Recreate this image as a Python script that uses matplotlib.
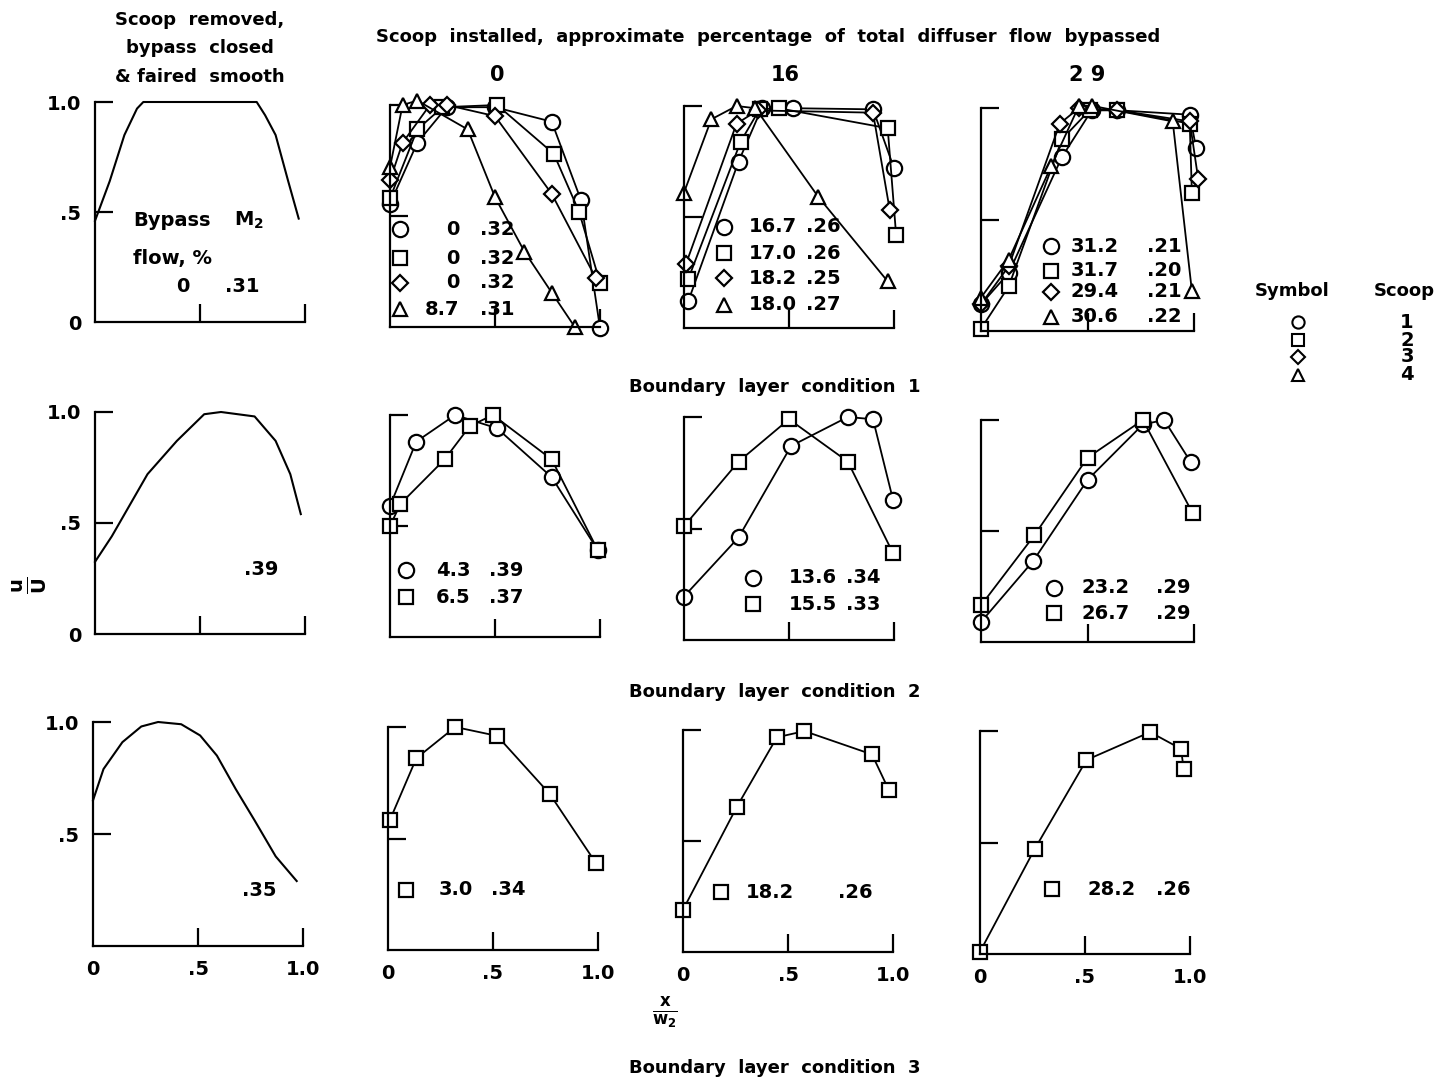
import matplotlib
matplotlib.use('Agg')
import matplotlib.pyplot as plt

plt.rcParams['font.family'] = ['DejaVu Sans']
plt.rcParams['font.weight'] = 'bold'
plt.rcParams['mathtext.default'] = 'bf'

W, H = 1444, 1087

# ---- data (x/w2, u/U) ----
symbols = ['o', 's', 'D', '^']
scoops = ['1', '2', '3', '4']

# scoop removed, faired smooth (no markers)
bl1_ref_x = [0, 0.07, 0.14, 0.2, 0.23, 0.5, 0.77, 0.81, 0.86, 0.92, 0.97]
bl1_ref_y = [0.46, 0.64, 0.85, 0.97, 1.0, 1.0, 1.0, 0.94, 0.85, 0.64, 0.47]
bl2_ref_x = [0, 0.08, 0.25, 0.39, 0.52, 0.6, 0.76, 0.86, 0.93, 0.98]
bl2_ref_y = [0.325, 0.44, 0.72, 0.87, 0.99, 1.0, 0.98, 0.87, 0.72, 0.54]
bl3_ref_x = [0, 0.05, 0.14, 0.23, 0.31, 0.42, 0.51, 0.59, 0.68, 0.77, 0.87, 0.97]
bl3_ref_y = [0.65, 0.79, 0.91, 0.98, 1.0, 0.99, 0.94, 0.85, 0.7, 0.56, 0.4, 0.29]
ref_labels = ['.31', '.39', '.35']

# boundary layer condition 1, scoops 1-4
bl1_p0_x = [[0, 0.13, 0.27, 0.5, 0.77, 0.91, 1.0],
            [0, 0.13, 0.25, 0.51, 0.78, 0.9, 1.0],
            [0, 0.06, 0.19, 0.27, 0.5, 0.77, 0.98],
            [0, 0.06, 0.13, 0.37, 0.5, 0.64, 0.77, 0.88]]
bl1_p0_y = [[0.555, 0.83, 0.99, 0.99, 0.925, 0.57, -0.005],
            [0.58, 0.89, 0.99, 1.0, 0.78, 0.52, 0.2],
            [0.66, 0.83, 1.0, 1.0, 0.95, 0.6, 0.22],
            [0.72, 1.0, 1.02, 0.89, 0.585, 0.34, 0.155, 0.0]]
bl1_p0_leg = [('0', '.32'), ('0', '.32'), ('0', '.32'), ('8.7', '.31')]

bl1_p16_x = [[0.02, 0.26, 0.37, 0.52, 0.9, 1.0],
             [0.02, 0.27, 0.36, 0.45, 0.97, 1.01],
             [0.01, 0.25, 0.35, 0.9, 0.98],
             [0, 0.13, 0.25, 0.34, 0.64, 0.97]]
bl1_p16_y = [[0.12, 0.75, 0.99, 0.99, 0.985, 0.72],
             [0.22, 0.84, 0.985, 0.99, 0.9, 0.42],
             [0.29, 0.92, 0.98, 0.97, 0.53],
             [0.61, 0.94, 1.0, 0.99, 0.59, 0.21]]
bl1_p16_leg = [('16.7', '.26'), ('17.0', '.26'), ('18.2', '.25'), ('18.0', '.27')]

bl1_p29_x = [[0, 0.13, 0.38, 0.52, 0.64, 0.98, 1.01],
             [0, 0.13, 0.38, 0.51, 0.64, 0.98, 0.99],
             [0, 0.13, 0.37, 0.46, 0.64, 0.98, 1.02],
             [0, 0.13, 0.33, 0.46, 0.52, 0.9, 0.99]]
bl1_p29_y = [[0.12, 0.26, 0.78, 0.99, 0.99, 0.97, 0.82],
             [0.01, 0.2, 0.86, 0.99, 0.99, 0.93, 0.62],
             [0.12, 0.29, 0.93, 1.0, 0.99, 0.94, 0.68],
             [0.15, 0.32, 0.74, 1.01, 1.01, 0.94, 0.18]]
bl1_p29_leg = [('31.2', '.21'), ('31.7', '.20'), ('29.4', '.21'), ('30.6', '.22')]

# boundary layer condition 2, scoops 1-2
bl2_p0_x = [[0, 0.125, 0.31, 0.51, 0.77, 0.99],
            [0, 0.05, 0.26, 0.38, 0.49, 0.77, 0.99]]
bl2_p0_y = [[0.59, 0.88, 1.0, 0.94, 0.72, 0.39],
            [0.5, 0.6, 0.8, 0.95, 1.0, 0.8, 0.39]]
bl2_p0_leg = [('4.3', '.39'), ('6.5', '.37')]

bl2_p16_x = [[0, 0.26, 0.51, 0.78, 0.9, 0.995],
             [0, 0.26, 0.5, 0.78, 0.995]]
bl2_p16_y = [[0.195, 0.46, 0.87, 1.0, 0.99, 0.63],
             [0.51, 0.8, 0.99, 0.8, 0.39]]
bl2_p16_leg = [('13.6', '.34'), ('15.5', '.33')]

bl2_p29_x = [[0, 0.245, 0.5, 0.76, 0.86, 0.985],
             [0, 0.25, 0.5, 0.76, 0.994]]
bl2_p29_y = [[0.09, 0.365, 0.73, 0.98, 1.0, 0.81],
             [0.165, 0.48, 0.83, 1.0, 0.58]]
bl2_p29_leg = [('23.2', '.29'), ('26.7', '.29')]

# boundary layer condition 3, scoop 2
bl3_p0_x = [[0.01, 0.135, 0.32, 0.52, 0.77, 0.99]]
bl3_p0_y = [[0.585, 0.86, 1.0, 0.96, 0.7, 0.39]]
bl3_p0_leg = [('3.0', '.34')]

bl3_p16_x = [[0, 0.257, 0.447, 0.578, 0.9, 0.98]]
bl3_p16_y = [[0.19, 0.655, 0.967, 0.995, 0.89, 0.73]]
bl3_p16_leg = [('18.2', '.26')]

bl3_p29_x = [[0, 0.26, 0.507, 0.81, 0.957, 0.97]]
bl3_p29_y = [[0.01, 0.47, 0.87, 0.995, 0.92, 0.83]]
bl3_p29_leg = [('28.2', '.26')]

bypass_cols = ['0', '16', '2 9']
row_titles = ['Boundary  layer  condition  1', 'Boundary  layer  condition  2',
              'Boundary  layer  condition  3']

# ---- layout (pixels: left, bottom, width, height) ----
boxes = [
    [(95, 322, 210, 220), (390, 327, 210, 222), (684, 328, 210, 222), (981, 331, 213, 223)],
    [(95, 634, 210, 222), (390, 637, 210, 222), (684, 640, 210, 223), (981, 642, 213, 222)],
    [(93, 946, 210, 224), (388, 950, 210, 223), (683, 952, 210, 222), (980, 954, 210, 223)],
]
# legend placement per panel: symbol x, flow x (+ alignment), M2 left x, row y's
leg_pos = [
    [(0.05, 0.33, 'right', 0.43, [0.44, 0.31, 0.2, 0.08]),
     (0.19, 0.31, 'left', 0.58, [0.455, 0.336, 0.224, 0.104]),
     (0.33, 0.42, 'left', 0.78, [0.38, 0.27, 0.175, 0.063])],
    [(0.075, 0.22, 'left', 0.47, [0.3, 0.18]),
     (0.33, 0.50, 'left', 0.77, [0.28, 0.16]),
     (0.345, 0.47, 'left', 0.82, [0.245, 0.13])],
    [(0.087, 0.24, 'left', 0.49, [0.27]),
     (0.18, 0.30, 'left', 0.74, [0.27]),
     (0.343, 0.51, 'left', 0.84, [0.29])],
]

ref_x = [bl1_ref_x, bl2_ref_x, bl3_ref_x]
ref_y = [bl1_ref_y, bl2_ref_y, bl3_ref_y]
ref_lab_y = [None, 0.29, 0.25]
panel_x = [[bl1_p0_x, bl1_p16_x, bl1_p29_x], [bl2_p0_x, bl2_p16_x, bl2_p29_x],
           [bl3_p0_x, bl3_p16_x, bl3_p29_x]]
panel_y = [[bl1_p0_y, bl1_p16_y, bl1_p29_y], [bl2_p0_y, bl2_p16_y, bl2_p29_y],
           [bl3_p0_y, bl3_p16_y, bl3_p29_y]]
panel_leg = [[bl1_p0_leg, bl1_p16_leg, bl1_p29_leg], [bl2_p0_leg, bl2_p16_leg, bl2_p29_leg],
             [bl3_p0_leg, bl3_p16_leg, bl3_p29_leg]]
row_syms = [symbols, symbols[:2], ['s']]

msize = {'o': 11, 's': 10, 'D': 8.5, '^': 10}

fig = plt.figure(figsize=(W / 100, H / 100), dpi=100)
fig.patch.set_facecolor('white')


def make_ax(box):
    l, b, w, h = box
    ax = fig.add_axes([l / W, 1 - b / H, w / W, h / H])
    ax.set_xlim(0, 1.0)
    ax.set_ylim(0, 1.0)
    ax.patch.set_alpha(0)
    for s in ['top', 'right']:
        ax.spines[s].set_visible(False)
    for s in ['left', 'bottom']:
        ax.spines[s].set_linewidth(1.6)
    ax.set_xticks([0.5, 1.0])
    ax.set_yticks([0.5, 1.0])
    ax.tick_params(direction='in', length=13, width=1.6, labelsize=14,
                   labelbottom=False, labelleft=False, pad=10)
    return ax


txt = dict(fontsize=14, fontweight='bold', va='center')

for r in range(3):
    # faired reference profile, scoop removed
    ax = make_ax(boxes[r][0])
    ax.plot(ref_x[r], ref_y[r], color='black', lw=1.5, clip_on=False)
    ax.set_yticks([0.5, 1.0] if r == 2 else [0, 0.5, 1.0])
    ax.set_yticklabels(['.5', '1.0'] if r == 2 else ['0', '.5', '1.0'])
    ax.tick_params(axis='y', labelleft=True)
    if r != 2:
        ax.yaxis.get_major_ticks()[0].tick1line.set_visible(False)
    if r == 2:
        ax.set_xticks([0, 0.5, 1.0])
        ax.set_xticklabels(['0', '.5', '1.0'])
        ax.tick_params(axis='x', labelbottom=True)
        ax.xaxis.get_major_ticks()[0].tick1line.set_visible(False)
    if r == 0:
        ax.text(0.18, 0.46, 'Bypass', ha='left', **txt)
        ax.text(0.66, 0.46, r'M$_2$', ha='left', **txt)
        ax.text(0.18, 0.29, 'flow, %', ha='left', **txt)
        ax.text(0.42, 0.16, '0', ha='center', **txt)
        ax.text(0.62, 0.16, ref_labels[0], ha='left', **txt)
    else:
        ax.text(0.71, ref_lab_y[r], ref_labels[r], ha='left', **txt)

    for c in range(3):
        ax = make_ax(boxes[r][c + 1])
        if r == 2:
            ax.set_xticks([0, 0.5, 1.0])
            ax.set_xticklabels(['0', '.5', '1.0'])
            ax.tick_params(axis='x', labelbottom=True, length=13)
            ax.xaxis.get_major_ticks()[0].tick1line.set_visible(False)
        xs, ys, leg = panel_x[r][c], panel_y[r][c], panel_leg[r][c]
        for k, m in enumerate(row_syms[r]):
            ax.plot(xs[k], ys[k], color='black', lw=1.3, marker=m, ms=msize[m],
                    mfc='white', mec='black', mew=1.6, clip_on=False)
        sx, fx, fha, mx, rows_y = leg_pos[r][c]
        for k, m in enumerate(row_syms[r]):
            ax.plot([sx], [rows_y[k]], marker=m, ms=msize[m], mfc='white',
                    mec='black', mew=1.6, ls='none', clip_on=False)
            ax.text(fx, rows_y[k], leg[k][0], ha=fha, **txt)
            ax.text(mx, rows_y[k], leg[k][1], ha='left', **txt)

# headings
head = dict(fontsize=13, fontweight='bold', ha='center', va='center')
fig.text(200 / W, 1 - 20 / H, 'Scoop  removed,', **head)
fig.text(200 / W, 1 - 48 / H, 'bypass  closed', **head)
fig.text(200 / W, 1 - 77 / H, '& faired  smooth', **head)
fig.text(768 / W, 1 - 37 / H,
         'Scoop  installed,  approximate  percentage  of  total  diffuser  flow  bypassed',
         **head)
for xc, lab in zip([497, 785, 1087], bypass_cols):
    fig.text(xc / W, 1 - 75 / H, lab, fontsize=15, fontweight='bold', ha='center', va='center')
for yc, lab in zip([387, 692, 1068], row_titles):
    fig.text(775 / W, 1 - yc / H, lab, **head)

fig.text(30 / W, 1 - 585 / H, r'$\frac{u}{U}$', fontsize=20, rotation=90,
         ha='center', va='center')
fig.text(665 / W, 1 - 1013 / H, r'$\frac{x}{w_2}$', fontsize=17,
         ha='center', va='center')

# symbol key
fig.text(1292 / W, 1 - 291 / H, 'Symbol', **head)
fig.text(1404 / W, 1 - 291 / H, 'Scoop', **head)
key_y = [322, 340, 357, 375]
for m, s, yk in zip(symbols, scoops, key_y):
    fig.lines.append(plt.Line2D([1298 / W], [1 - yk / H], marker=m, ms=msize[m] * 0.8,
                                mfc='white', mec='black', mew=1.5, ls='none',
                                transform=fig.transFigure, figure=fig))
    fig.text(1407 / W, 1 - yk / H, s, fontsize=14, fontweight='bold', ha='center', va='center')

fig.savefig('out.png', dpi=100)
